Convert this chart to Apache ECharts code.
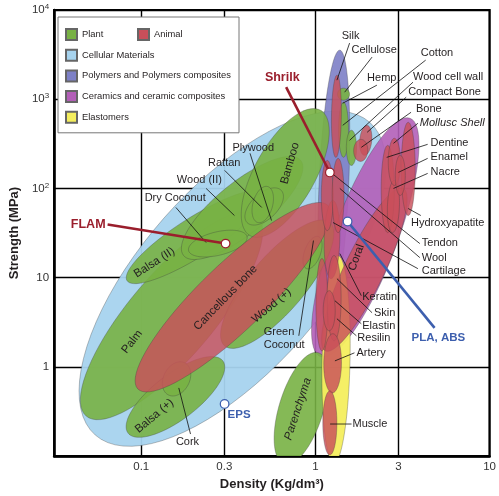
<!DOCTYPE html>
<html><head><meta charset="utf-8">
<script src="https://cdn.jsdelivr.net/npm/echarts@6/dist/echarts.min.js"></script>
<style>html,body{margin:0;padding:0;background:#fff}#c{width:499px;height:496px}</style>
</head><body><div id="c"></div>
<script>
// ---- axis ticks ----
const xTickValues = [0.1, 0.3, 1, 3, 10];
const yTickValues = [0.1, 1, 10, 100, 1000, 10000];

// ---- material bubbles: [density1, strength1, density2, strength2, minor/major ratio] ----
const cellular = [[0.0545, 0.172, 2.05, 551, 0.44]];
const polymers = [[1.38, 3550, 1.18, 3.46, 0.11]];
const ceramics = [[1.07, 1.30, 3.49, 612, 0.25]];
const plant = [
  [0.0483, 0.281, 0.461, 49.7, 0.32],   // Palm
  [0.0829, 9.25, 0.505, 87.9, 0.24],    // Balsa (II)
  [0.175, 17.7, 0.824, 206, 0.34],      // Wood (II)
  [0.421, 29.6, 1.07, 752, 0.42],       // Bamboo
  [0.187, 20.1, 0.405, 28.9, 0.39],     // Dry Coconut
  [0.405, 41.5, 0.637, 95, 0.55],       // Rattan
  [0.467, 41.5, 0.532, 105, 0.53],      // Plywood
  [0.084, 0.181, 0.294, 1.17, 0.38],    // Balsa (+)
  [0.143, 0.485, 0.178, 1.11, 0.72],    // Cork
  [0.301, 1.72, 1.21, 41.5, 0.34],      // Wood (+)
  [0.89, 12.6, 1.04, 28.9, 0.47],       // Green Coconut
  [0.662, 0.0813, 1.04, 1.44, 0.38],    // Parenchyma
  [1.45, 223, 1.45, 926, 0.18],         // Hemp
  [1.45, 974, 1.45, 1329, 1.0],         // Cellulose
  [1.61, 181, 1.61, 449, 0.29]          // Wood cell wall / Cotton
];
const elastomers = [[1.35, 17.67, 1.278, 0.0834, 0.135]];
const animal = [
  [0.0956, 0.566, 1.18, 64.4, 0.25],    // Cancellous bone
  [1.14, 1.51, 3.19, 100, 0.22],        // Coral
  [1.23, 9.75, 1.26, 73.3, 0.2],
  [1.17, 33.7, 1.17, 206, 0.17],        // Tendon
  [1.35, 32.0, 1.35, 217, 0.16],        // Wool
  [1.09, 1.51, 1.09, 16.4, 0.13],       // Keratin
  [1.28, 1.96, 1.28, 17.7, 0.165],      // Skin
  [1.20, 2.54, 1.20, 7.14, 0.3],        // Elastin / Resilin
  [1.25, 0.51, 1.26, 2.35, 0.3],        // Artery
  [1.21, 0.103, 1.21, 0.538, 0.22],     // Muscle
  [1.31, 223, 1.33, 1861, 0.12],        // Silk
  [1.91, 235, 1.98, 510, 0.4],          // Compact Bone
  [1.81, 201, 1.83, 355, 0.64],         // Bone
  [2.60, 32.0, 2.60, 304, 0.15],        // Dentine
  [2.77, 32.0, 2.84, 123, 0.23],        // Nacre
  [3.41, 49.7, 3.41, 551, 0.15],        // Hydroxyapatite
  [2.84, 108, 2.84, 365, 0.26],         // Mollusc Shell
  [3.07, 83.4, 3.07, 235, 0.25]         // Enamel
];

// ---- labels written inside bubbles ----
const insideNames = ['Palm', 'Cancellous bone', 'Balsa (II)', 'Balsa (+)', 'Wood (+)', 'Bamboo', 'Coral', 'Parenchyma'];
const insidePos = [[0.0885, 1.91], [0.305, 5.96], [0.119, 14.74], [0.119, 0.2813], [0.56, 4.85], [0.715, 190.9], [1.719, 16.77], [0.793, 0.3374]];

// ---- leader-line annotations ----
const annotNames = ['Silk', 'Cellulose', 'Cotton', 'Hemp', 'Wood cell wall', 'Compact Bone', 'Bone', 'Mollusc Shell',
  'Dentine', 'Enamel', 'Nacre', 'Hydroxyapatite', 'Tendon', 'Wool', 'Cartilage', 'Keratin', 'Skin', 'Elastin',
  'Resilin', 'Artery', 'Muscle', 'Plywood', 'Rattan', 'Wood (II)', 'Dry Coconut', 'Green\nCoconut', 'Cork'];
const annotText = [[1.417, 5104], [1.612, 3599], [4.027, 3288], [1.98, 1722], [3.633, 1767], [3.406, 1199], [3.776, 782], [3.976, 537.5],
  [4.582, 320.3], [4.582, 223], [4.582, 151.3], [3.54, 41.5], [4.08, 24.74], [4.08, 16.77], [4.08, 11.99], [1.858, 6.115], [2.169, 4.045], [1.858, 2.888],
  [1.741, 2.118], [1.719, 1.437], [1.633, 0.2288], [0.334, 281.4], [0.2419, 190.9], [0.1601, 123.0], [0.1046, 77.2], [0.5047, 2.064], [0.1581, 0.1437]];
const annotFrom = [[1.571, 4258], [2.114, 2965], [4.296, 2743], [2.254, 1437], [3.633, 1553], [3.319, 1053], [3.54, 714], [3.875, 537.5],
  [4.409, 312.1], [4.409, 217.3], [4.409, 147.4], [4.027, 49.7], [3.976, 24.10], [3.976, 16.77], [3.875, 12.62], [1.834, 6.28], [2.114, 4.045], [1.834, 3.042],
  [1.719, 2.230], [1.675, 1.437], [1.612, 0.2288], [0.4212, 247.4], [0.3013, 159.3], [0.2358, 100], [0.1581, 61.2], [0.8029, 2.230], [0.1918, 0.1767]];
const annotTo = [[1.329, 1635], [1.472, 1199], [1.435, 510], [1.435, 902], [1.571, 346.2], [1.982, 425.8], [1.834, 288.8], [2.807, 320.3],
  [2.565, 223], [2.994, 151.3], [2.807, 100], [3.406, 59.6], [1.245, 147.4], [1.381, 100], [1.262, 41.5], [1.381, 18.61], [1.329, 9.745], [1.294, 5.515],
  [1.329, 3.462], [1.294, 1.168], [1.214, 0.2288], [0.5597, 43.7], [0.4918, 61.2], [0.3428, 49.7], [0.2358, 24.74], [0.9745, 26.05], [0.1643, 0.5808]];

// ---- highlighted materials ----
const pointNames = ['FLAM', 'Shrilk', 'EPS', 'PLA, ABS'];
const pointValues = [[0.305, 24.1], [1.21, 151], [0.301, 0.384], [1.53, 42.6]];
const pointLabelPos = [[0.0624, 39.4], [0.645, 1766], [0.313, 0.289], [5.08, 2.12]];
const pointLineFrom = [[0.0641, 39.4], [0.679, 1364], null, [4.83, 2.74]];

// ---- styles ----
const C = {
  plant: '#78b144', animal: '#c94f5a', cellular: '#a7d3ee', polymers: '#7d80c6',
  ceramics: '#b35fb8', elastomers: '#f4ee5e', dark: '#9a1e2c', blue: '#3d5fae', text: '#231f20'
};
function rgba(hex, a) {
  const n = parseInt(hex.slice(1), 16);
  return 'rgba(' + (n >> 16) + ',' + ((n >> 8) & 255) + ',' + (n & 255) + ',' + a + ')';
}
const FONT = 'Liberation Sans';

function ellipseSeries(name, data, color, alpha) {
  return {
    type: 'custom', name: name, data: data, clip: true,
    itemStyle: { color: color, borderColor: '#666', borderWidth: 0.8 },
    renderItem: function (params, api) {
      const p1 = api.coord([api.value(0), api.value(1)]);
      const p2 = api.coord([api.value(2), api.value(3)]);
      const r = api.value(4);
      const cx = (p1[0] + p2[0]) / 2, cy = (p1[1] + p2[1]) / 2;
      const dx = p2[0] - p1[0], dy = p2[1] - p1[1];
      const a = Math.hypot(dx, dy) / 2, b = a * r, phi = Math.atan2(dy, dx);
      const pts = [];
      for (let k = 0; k < 80; k++) {
        const t = k / 80 * 2 * Math.PI;
        const ex = a * Math.cos(t), ey = b * Math.sin(t);
        pts.push([cx + ex * Math.cos(phi) - ey * Math.sin(phi), cy + ex * Math.sin(phi) + ey * Math.cos(phi)]);
      }
      return { type: 'polygon', shape: { points: pts },
        style: { fill: rgba(color, alpha), stroke: 'rgba(60,60,60,0.55)', lineWidth: 0.6 } };
    }
  };
}

const insideAngles = [52, 46, 33, 40, 40, 74, 70, 72];

const series = [
  ellipseSeries('Cellular Materials', cellular, C.cellular, 0.95),
  ellipseSeries('Polymers and Polymers composites', polymers, C.polymers, 0.9),
  ellipseSeries('Ceramics and ceramic composites', ceramics, C.ceramics, 0.9),
  ellipseSeries('Plant', plant, C.plant, 0.9),
  ellipseSeries('Elastomers', elastomers, C.elastomers, 0.95),
  ellipseSeries('Animal', animal, C.animal, 0.82),
  {
    type: 'custom', name: 'insideLabels', data: insidePos, z: 5,
    renderItem: function (params, api) {
      const p = api.coord([api.value(0), api.value(1)]);
      const i = params.dataIndex;
      return { type: 'text', x: p[0], y: p[1], rotation: insideAngles[i] * Math.PI / 180,
        style: { text: insideNames[i], fill: C.text, align: 'center', verticalAlign: 'middle',
          font: (insideNames[i] === 'Parenchyma' ? 'italic ' : '') + '11.5px "' + FONT + '"' } };
    }
  },
  {
    type: 'custom', name: 'annotations', z: 6,
    data: annotNames.map((n, i) => annotText[i].concat(annotFrom[i], annotTo[i])),
    renderItem: function (params, api) {
      const i = params.dataIndex;
      const t = api.coord([api.value(0), api.value(1)]);
      const f = api.coord([api.value(2), api.value(3)]);
      const e = api.coord([api.value(4), api.value(5)]);
      return { type: 'group', children: [
        { type: 'line', shape: { x1: f[0], y1: f[1], x2: e[0], y2: e[1] }, style: { stroke: '#111', lineWidth: 0.8 } },
        { type: 'text', x: t[0], y: t[1], style: { text: annotNames[i], fill: C.text, align: 'left', verticalAlign: 'middle',
            lineHeight: 13, font: (annotNames[i] === 'Mollusc Shell' ? 'italic ' : '') + '11px "' + FONT + '"' } }
      ] };
    }
  },
  {
    type: 'custom', name: 'callouts', z: 7,
    data: pointNames.map((n, i) => pointValues[i].concat(pointLabelPos[i], pointLineFrom[i] || pointValues[i])),
    renderItem: function (params, api) {
      const i = params.dataIndex;
      const p = api.coord([api.value(0), api.value(1)]);
      const l = api.coord([api.value(2), api.value(3)]);
      const f = api.coord([api.value(4), api.value(5)]);
      const col = i < 2 ? C.dark : C.blue;
      const align = i === 0 ? 'right' : (i === 2 ? 'left' : 'center');
      const children = [];
      if (pointLineFrom[i]) children.push({ type: 'line', shape: { x1: f[0], y1: f[1], x2: p[0], y2: p[1] }, style: { stroke: col, lineWidth: 2.6 } });
      children.push({ type: 'circle', shape: { cx: p[0], cy: p[1], r: 4.3 }, style: { fill: '#fff', stroke: col, lineWidth: 1.2 } });
      children.push({ type: 'text', x: l[0], y: l[1], style: { text: pointNames[i], fill: col, align: align, verticalAlign: 'middle',
        font: 'bold ' + (i < 2 ? '12.5px' : '11.5px') + ' "' + FONT + '"' } });
      return { type: 'group', children: children };
    }
  }
];

const chart = echarts.init(document.getElementById('c'));
chart.setOption({
  animation: false,
  backgroundColor: '#fff',
  grid: { left: 45, right: 7, top: 10, bottom: 39, show: true, borderColor: '#000', borderWidth: 2.2, backgroundColor: 'transparent' },
  xAxis: {
    type: 'log', logBase: 10, min: Math.pow(10, -1.5), max: 10,
    axisLine: { show: true, onZero: false, lineStyle: { color: '#000', width: 2.5 } },
    axisTick: { show: false, customValues: xTickValues },
    axisLabel: { customValues: xTickValues, formatter: v => String(+v.toPrecision(2)), fontSize: 11.5, color: '#333', fontFamily: FONT, margin: 5 },
    splitLine: { show: true, lineStyle: { color: '#000', width: 1.4 } },
    name: 'Density (Kg/dm³)', nameLocation: 'middle', nameGap: 21,
    nameTextStyle: { fontWeight: 'bold', fontSize: 13, color: '#231f20', fontFamily: FONT }
  },
  yAxis: {
    type: 'log', logBase: 10, min: 0.1, max: 10000,
    axisLine: { show: true, onZero: false, lineStyle: { color: '#000', width: 2.5 } },
    axisTick: { show: false, customValues: yTickValues },
    axisLabel: {
      customValues: yTickValues, fontFamily: FONT, color: '#333', margin: 5,
      formatter: v => { if (v < 0.5) return ''; const e = Math.round(Math.log10(v)); if (e <= 1) return String(Math.round(v)); return '{b|10}{s|' + e + '}'; },
      fontSize: 11.5,
      rich: { b: { fontSize: 11.5, color: '#333', fontFamily: FONT, lineHeight: 14 }, s: { fontSize: 8, color: '#333', fontFamily: FONT, verticalAlign: 'top', lineHeight: 8 } }
    },
    splitLine: { show: true, lineStyle: { color: '#000', width: 1.4 } },
    name: 'Strength (MPa)', nameLocation: 'middle', nameGap: 25,
    nameTextStyle: { fontWeight: 'bold', fontSize: 13, color: '#231f20', fontFamily: FONT }
  },
  legend: [{
    data: ['Plant', 'Cellular Materials', 'Polymers and Polymers composites', 'Ceramics and ceramic composites', 'Elastomers'],
    orient: 'vertical', left: 58, top: 17, padding: [11, 8, 9, 7], itemWidth: 11, itemHeight: 11, itemGap: 7.7,
    backgroundColor: '#fff', borderColor: '#777', borderWidth: 1, icon: 'rect', selectedMode: false, z: 20,
    textStyle: { fontFamily: FONT, fontSize: 9.4, color: C.text, lineHeight: 11 }
  }, {
    data: ['Animal'], orient: 'vertical', left: 137, top: 28, padding: 0, itemWidth: 11, itemHeight: 11,
    icon: 'rect', selectedMode: false, z: 21,
    textStyle: { fontFamily: FONT, fontSize: 9.4, color: C.text, lineHeight: 11 }
  }],
  series: series
});
</script>
</body></html>
